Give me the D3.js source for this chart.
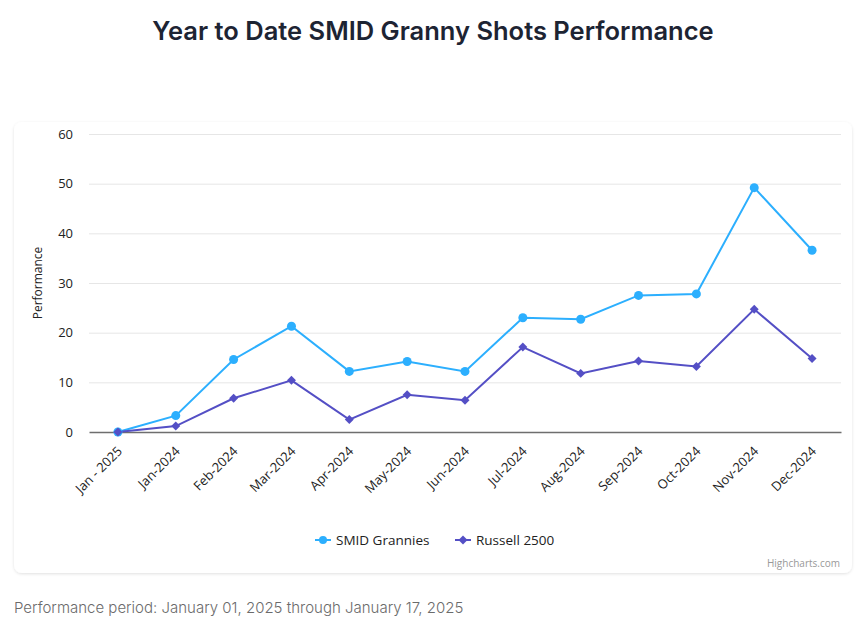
<!DOCTYPE html>
<html><head><meta charset="utf-8">
<script src="https://cdn.jsdelivr.net/npm/d3@7"></script>
<style>
html,body{margin:0;padding:0;background:#fff;}
svg{display:block;}
</style></head>
<body>
<svg id="c" width="866" height="623"></svg>
<script>
const categories = ["Jan - 2025","Jan-2024","Feb-2024","Mar-2024","Apr-2024","May-2024","Jun-2024","Jul-2024","Aug-2024","Sep-2024","Oct-2024","Nov-2024","Dec-2024"];
const smidValues = [0, 3.3, 14.6, 21.3, 12.2, 14.2, 12.2, 23.0, 22.7, 27.5, 27.8, 49.2, 36.6];
const russellValues = [0, 1.2, 6.8, 10.4, 2.5, 7.5, 6.4, 17.1, 11.8, 14.3, 13.2, 24.7, 14.8];
const yTicks = [0, 10, 20, 30, 40, 50, 60];
const seriesNames = ["SMID Grannies", "Russell 2500"];

(function(){
const svg = d3.select("#c");
const defs = svg.append("defs");
const f = defs.append("filter").attr("id","sh").attr("x","-5%").attr("y","-5%").attr("width","110%").attr("height","115%");
f.append("feDropShadow").attr("dx",0).attr("dy",1).attr("stdDeviation",1.5).attr("flood-color","#000").attr("flood-opacity",0.12);

svg.append("text").attr("x",433).attr("y",40).attr("text-anchor","middle")
  .style("font-family","Inter, 'Open Sans', sans-serif").style("font-weight","600").style("font-size","25.5px")
  .style("fill","#1d2433").text("Year to Date SMID Granny Shots Performance");

svg.append("rect").attr("x",14).attr("y",122).attr("width",838).attr("height",451).attr("rx",8)
  .attr("fill","#fff").attr("filter","url(#sh)");

const pL = 89, pR = 841, pT = 134, pB = 432;
const x = d3.scaleBand().domain(categories).range([pL, pR]);
const y = d3.scaleLinear().domain([0, 60]).range([pB, pT]);
const cx = d => x(d) + x.bandwidth()/2;

const labFont = "'Open Sans', 'Segoe UI', sans-serif";

svg.append("g").selectAll("line").data(yTicks.filter(t=>t>0)).join("line")
  .attr("x1",pL).attr("x2",pR).attr("y1",d=>y(d)+0.5).attr("y2",d=>y(d)+0.5)
  .attr("stroke","#e6e6e6").attr("stroke-width",1);

const yAxis = d3.axisLeft(y).tickValues(yTicks).tickSize(0).tickPadding(0);
const yg = svg.append("g").attr("transform",`translate(73,0)`).call(yAxis);
yg.select(".domain").remove();
yg.selectAll("text").style("font-family",labFont).style("font-size","13px").style("fill","#222");

svg.append("text").attr("transform",`translate(42,${(pT+pB)/2}) rotate(-90)`).attr("text-anchor","middle")
  .style("font-family",labFont).style("font-size","12px").style("fill","#222").text("Performance");

const xAxis = d3.axisBottom(x).tickSize(0).tickPadding(0);
const xg = svg.append("g").attr("transform",`translate(0,${pB})`).call(xAxis);
xg.select(".domain").attr("stroke","#6e6e6e").attr("stroke-width",1.5);
xg.selectAll("text").attr("text-anchor","end").attr("dy",null).attr("y",0)
  .attr("transform","translate(5,20) rotate(-45)")
  .style("font-family",labFont).style("font-size","13px").style("fill","#222");

const colors = ["#2caffe","#544fc5"];
const data = [smidValues, russellValues];
const line = d3.line().x((d,i)=>cx(categories[i])).y(d=>y(d));

data.forEach((vals, si) => {
  svg.append("path").datum(vals).attr("d",line).attr("fill","none").attr("stroke",colors[si]).attr("stroke-width",2);
});
const diamond = d3.symbol().type(d3.symbolSquare).size(40);
data.forEach((vals, si) => {
  const g = svg.append("g");
  if (si === 0) {
    g.selectAll("circle").data(vals).join("circle").attr("cx",(d,i)=>cx(categories[i])).attr("cy",d=>y(d)).attr("r",4.5).attr("fill",colors[0]);
  } else {
    g.selectAll("path").data(vals).join("path").attr("d",diamond)
      .attr("transform",(d,i)=>`translate(${cx(categories[i])},${y(d)}) rotate(45)`).attr("fill",colors[1]);
  }
});

const legX = [315, 455];
seriesNames.forEach((n, i) => {
  const g = svg.append("g").attr("transform",`translate(${legX[i]},540)`);
  g.append("line").attr("x1",0).attr("x2",16).attr("y1",0).attr("y2",0).attr("stroke",colors[i]).attr("stroke-width",2);
  if (i===0) g.append("circle").attr("cx",8).attr("cy",0).attr("r",4).attr("fill",colors[0]);
  else g.append("path").attr("d",diamond).attr("transform","translate(8,0) rotate(45)").attr("fill",colors[1]);
  g.append("text").attr("x",21).attr("y",5).style("font-family",labFont).style("font-size","13.5px").style("fill","#222").text(n);
});

svg.append("text").attr("x",840).attr("y",567).attr("text-anchor","end")
  .style("font-family",labFont).style("font-size","10px").style("fill","#999").text("Highcharts.com");

svg.append("text").attr("x",14).attr("y",613)
  .style("font-family","Inter, 'Open Sans', sans-serif").style("font-weight","300").style("font-size","15px")
  .style("fill","#6b6b6b").text("Performance period: January 01, 2025 through January 17, 2025");
})();
</script>
</body></html>
